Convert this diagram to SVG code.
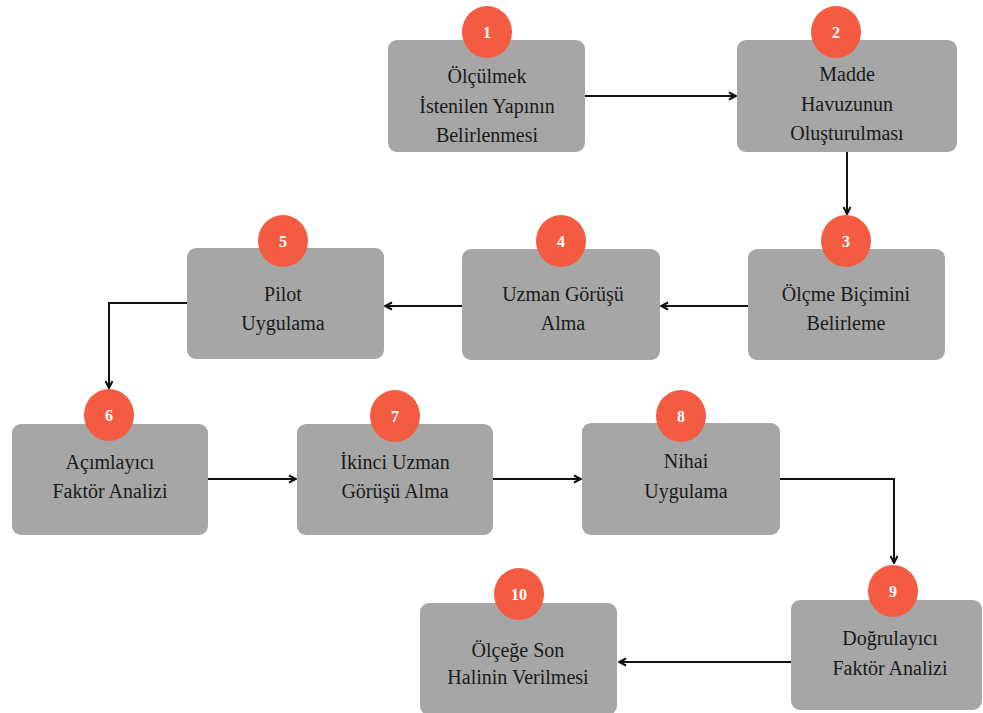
<svg xmlns="http://www.w3.org/2000/svg" width="983" height="713" viewBox="0 0 983 713">
<style>
.box{fill:#a6a6a6;}
.num{fill:#f35c40;}
.t{font-family:"Liberation Serif","Times New Roman",serif;font-size:20px;fill:#1a1a1a;text-anchor:middle;}
.n{font-family:"Liberation Serif","Times New Roman",serif;font-size:16px;font-weight:bold;fill:#ffffff;text-anchor:middle;}
.c{fill:none;stroke:#111;stroke-width:2;}
</style>
<defs>
<marker id="ah" viewBox="0 0 10 10" refX="9" refY="5" markerWidth="10" markerHeight="10" markerUnits="userSpaceOnUse" orient="auto">
<path d="M2,1.5 L9,5 L2,8.5" fill="none" stroke="#111" stroke-width="2"/>
</marker>
</defs>
<rect width="983" height="713" fill="#ffffff"/>
<g id="connectors">
<path class="c" d="M585,96 L736,96" marker-end="url(#ah)"/>
<path class="c" d="M847,152 L847,214" marker-end="url(#ah)"/>
<path class="c" d="M748,306 L661,306" marker-end="url(#ah)"/>
<path class="c" d="M462,306 L385,306" marker-end="url(#ah)"/>
<path class="c" d="M187,303 L109,303 L109,388" marker-end="url(#ah)"/>
<path class="c" d="M208,479 L296,479" marker-end="url(#ah)"/>
<path class="c" d="M493,479 L581,479" marker-end="url(#ah)"/>
<path class="c" d="M780,479 L894,479 L894,563" marker-end="url(#ah)"/>
<path class="c" d="M791,662 L619,662" marker-end="url(#ah)"/>
</g>
<g id="node1">
<rect class="box" x="388" y="40" width="197" height="112" rx="9"/>
<ellipse class="num" cx="487" cy="32" rx="25" ry="26"/>
<text class="n" x="487" y="38">1</text>
<text class="t" x="487" y="83">Ölçülmek</text>
<text class="t" x="487" y="113">İstenilen Yapının</text>
<text class="t" x="487" y="142">Belirlenmesi</text>
</g>
<g id="node2">
<rect class="box" x="737" y="40" width="220" height="112" rx="9"/>
<ellipse class="num" cx="836" cy="32" rx="25" ry="26"/>
<text class="n" x="836" y="38">2</text>
<text class="t" x="847" y="81">Madde</text>
<text class="t" x="847" y="111">Havuzunun</text>
<text class="t" x="847" y="140">Oluşturulması</text>
</g>
<g id="node3">
<rect class="box" x="748" y="249" width="197" height="111" rx="9"/>
<ellipse class="num" cx="846" cy="241" rx="25" ry="26"/>
<text class="n" x="846" y="247">3</text>
<text class="t" x="846" y="301">Ölçme Biçimini</text>
<text class="t" x="846" y="330">Belirleme</text>
</g>
<g id="node4">
<rect class="box" x="462" y="249" width="198" height="111" rx="9"/>
<ellipse class="num" cx="561" cy="241" rx="25" ry="26"/>
<text class="n" x="561" y="247">4</text>
<text class="t" x="563" y="301">Uzman Görüşü</text>
<text class="t" x="563" y="330">Alma</text>
</g>
<g id="node5">
<rect class="box" x="187" y="248" width="197" height="111" rx="9"/>
<ellipse class="num" cx="283" cy="241" rx="25" ry="26"/>
<text class="n" x="283" y="247">5</text>
<text class="t" x="283" y="301">Pilot</text>
<text class="t" x="283" y="330">Uygulama</text>
</g>
<g id="node6">
<rect class="box" x="12" y="424" width="196" height="111" rx="9"/>
<ellipse class="num" cx="109" cy="415" rx="25" ry="26"/>
<text class="n" x="109" y="421">6</text>
<text class="t" x="110" y="469">Açımlayıcı</text>
<text class="t" x="110" y="498">Faktör Analizi</text>
</g>
<g id="node7">
<rect class="box" x="297" y="424" width="196" height="111" rx="9"/>
<ellipse class="num" cx="395" cy="416" rx="25" ry="26"/>
<text class="n" x="395" y="422">7</text>
<text class="t" x="395" y="469">İkinci Uzman</text>
<text class="t" x="395" y="498">Görüşü Alma</text>
</g>
<g id="node8">
<rect class="box" x="582" y="423" width="198" height="112" rx="9"/>
<ellipse class="num" cx="681" cy="416" rx="25" ry="26"/>
<text class="n" x="681" y="422">8</text>
<text class="t" x="686" y="468">Nihai</text>
<text class="t" x="686" y="498">Uygulama</text>
</g>
<g id="node9">
<rect class="box" x="791" y="600" width="191" height="110" rx="9"/>
<ellipse class="num" cx="893" cy="591" rx="25" ry="26"/>
<text class="n" x="893" y="597">9</text>
<text class="t" x="890" y="645">Doğrulayıcı</text>
<text class="t" x="890" y="675">Faktör Analizi</text>
</g>
<g id="node10">
<rect class="box" x="420" y="603" width="197" height="112" rx="9"/>
<ellipse class="num" cx="519" cy="594" rx="25" ry="26"/>
<text class="n" x="519" y="600">10</text>
<text class="t" x="518" y="657">Ölçeğe Son</text>
<text class="t" x="518" y="684">Halinin Verilmesi</text>
</g>
</svg>
